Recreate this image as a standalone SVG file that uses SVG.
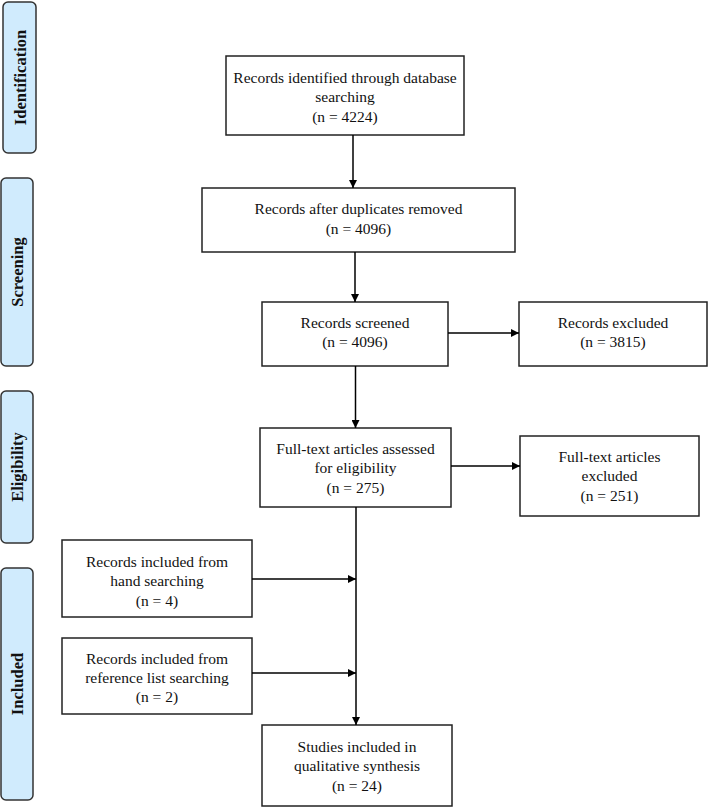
<svg xmlns="http://www.w3.org/2000/svg" width="709" height="808" viewBox="0 0 709 808">
<style>
.phase rect{fill:#d0ebfd;stroke:#333;stroke-width:1.5}
.phase text{font-family:"Liberation Serif","Times New Roman",serif;font-weight:bold;font-size:16.5px;fill:#111;text-anchor:middle;dominant-baseline:central}
.node rect{fill:#fff;stroke:#222;stroke-width:1.5}
.node text{font-family:"Liberation Serif","Times New Roman",serif;font-size:15.5px;fill:#111;text-anchor:middle}
.conn line{stroke:#000;stroke-width:1.5;fill:none}
</style>
<defs>
<marker id="ah" viewBox="0 0 10 10" refX="10" refY="5" markerWidth="8" markerHeight="8" markerUnits="userSpaceOnUse" orient="auto">
<path d="M0,0 L10,5 L0,10 z" fill="#000"/>
</marker>
</defs>
<rect width="709" height="808" fill="#fff"/>

<g id="phase-identification" class="phase">
<rect x="3" y="2" width="33" height="151" rx="5"/>
<text transform="translate(20,77.5) rotate(-90)">Identification</text>
</g>
<g id="phase-screening" class="phase">
<rect x="1" y="178" width="32" height="188" rx="5"/>
<text transform="translate(17,272) rotate(-90)">Screening</text>
</g>
<g id="phase-eligibility" class="phase">
<rect x="1" y="391" width="32" height="152" rx="5"/>
<text transform="translate(17,467) rotate(-90)">Eligibility</text>
</g>
<g id="phase-included" class="phase">
<rect x="1" y="568" width="32" height="232" rx="5"/>
<text transform="translate(17,684) rotate(-90)">Included</text>
</g>

<g id="n-identified" class="node">
<rect x="226" y="56" width="238" height="79"/>
<text x="345" y="83">Records identified through database</text>
<text x="345" y="102">searching</text>
<text x="345" y="122">(n = 4224)</text>
</g>
<g id="n-duplicates" class="node">
<rect x="202" y="188" width="313" height="64"/>
<text x="358.5" y="214">Records after duplicates removed</text>
<text x="358.5" y="234">(n = 4096)</text>
</g>
<g id="n-screened" class="node">
<rect x="262" y="302" width="186" height="64"/>
<text x="355" y="328">Records screened</text>
<text x="355" y="347">(n = 4096)</text>
</g>
<g id="n-excluded" class="node">
<rect x="519" y="302" width="188" height="64"/>
<text x="613" y="328">Records excluded</text>
<text x="613" y="347">(n = 3815)</text>
</g>
<g id="n-fulltext" class="node">
<rect x="260" y="428" width="191" height="79"/>
<text x="355.5" y="454">Full-text articles assessed</text>
<text x="355.5" y="473">for eligibility</text>
<text x="355.5" y="493">(n = 275)</text>
</g>
<g id="n-ft-excluded" class="node">
<rect x="520" y="436" width="179" height="80"/>
<text x="609.5" y="462">Full-text articles</text>
<text x="609.5" y="481">excluded</text>
<text x="609.5" y="501">(n = 251)</text>
</g>
<g id="n-hand" class="node">
<rect x="62" y="540" width="190" height="77"/>
<text x="157" y="567">Records included from</text>
<text x="157" y="586">hand searching</text>
<text x="157" y="606">(n = 4)</text>
</g>
<g id="n-reflist" class="node">
<rect x="62" y="638" width="190" height="76"/>
<text x="157" y="664">Records included from</text>
<text x="157" y="683">reference list searching</text>
<text x="157" y="702">(n = 2)</text>
</g>
<g id="n-studies" class="node">
<rect x="262" y="725" width="190" height="81"/>
<text x="357" y="752">Studies included in</text>
<text x="357" y="771">qualitative synthesis</text>
<text x="357" y="791">(n = 24)</text>
</g>

<g id="connectors" class="conn">
<line x1="353" y1="135" x2="353" y2="188" marker-end="url(#ah)"/>
<line x1="355" y1="252" x2="355" y2="302" marker-end="url(#ah)"/>
<line x1="448" y1="333" x2="519" y2="333" marker-end="url(#ah)"/>
<line x1="355.5" y1="366" x2="355.5" y2="428" marker-end="url(#ah)"/>
<line x1="451" y1="466" x2="520" y2="466" marker-end="url(#ah)"/>
<line x1="356" y1="507" x2="356" y2="725" marker-end="url(#ah)"/>
<line x1="252" y1="579" x2="356" y2="579" marker-end="url(#ah)"/>
<line x1="252" y1="673" x2="356" y2="673" marker-end="url(#ah)"/>
</g>
</svg>
